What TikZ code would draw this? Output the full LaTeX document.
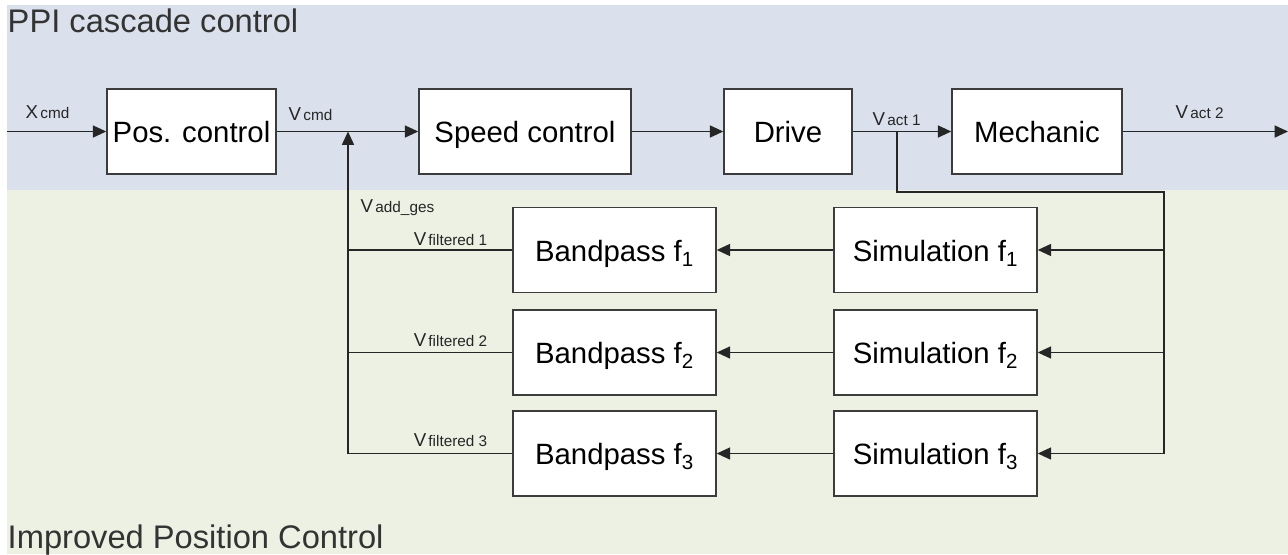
\documentclass[tikz,border=0pt]{standalone}
\usepackage{fontspec}
\setmainfont{Liberation Sans}
\usetikzlibrary{arrows.meta}

\definecolor{ppiband}{RGB}{219,225,236}
\definecolor{ipcband}{RGB}{236,241,228}
\definecolor{boxline}{RGB}{60,60,60}

\newcommand{\sig}[2]{{\fontsize{14}{16}\selectfont #1}\,{\fontsize{11.5}{13}\selectfont #2}}

\tikzset{every picture/.style={line width=1.1pt},
  blk/.style={draw=boxline, fill=white, minimum height=63.5pt, inner sep=0pt, text height=20pt, text depth=2.8pt, font=\fontsize{22}{26}\selectfont},
  sigline/.style={draw=black!85, -{Triangle[length=10pt,width=9pt]}},
  plainline/.style={draw=black!85},
  lbl/.style={anchor=base west, inner sep=0pt, text=black!85},
  lblr/.style={anchor=base east, inner sep=0pt, text=black!85},
  band/.style={anchor=base west, inner sep=0pt, font=\fontsize{24.5}{28}\selectfont, text=black!80}}

\begin{document}
\begin{tikzpicture}[x=0.75pt,y=0.75pt,yscale=-1,xscale=1]
\useasboundingbox (0,0) rectangle (1288,554);

%Shape: Rectangle [bands]
\fill [ppiband] (7,5) rectangle (1288,190);
\fill [ipcband] (7,190) rectangle (1288,554);

% Text Node
\node [band] (ppititle) at (7,32) {PPI cascade control};
% Text Node
\node [band] (ipctitle) at (7,548) {Improved Position Control};

%Shape: Rectangle [forward path]
\node [blk, minimum width=126.75pt] (pos) at (191.5,131.5) {Pos. control};
\node [blk, minimum width=159pt] (speed) at (525,131.5) {Speed control};
\node [blk, minimum width=96pt] (drive) at (788,131.5) {Drive};
\node [blk, minimum width=127.5pt] (mech) at (1037,131.5) {Mechanic};

%Shape: Rectangle [filter bank]
\node [blk, minimum width=152.25pt] (bp1) at (614.5,250) {Bandpass f\textsubscript{1}};
\node [blk, minimum width=152.25pt] (bp2) at (614.5,352.5) {Bandpass f\textsubscript{2}};
\node [blk, minimum width=152.25pt] (bp3) at (614.5,453.5) {Bandpass f\textsubscript{3}};
\node [blk, minimum width=152.25pt] (sim1) at (935.5,250) {Simulation f\textsubscript{1}};
\node [blk, minimum width=152.25pt] (sim2) at (935.5,352.5) {Simulation f\textsubscript{2}};
\node [blk, minimum width=152.25pt] (sim3) at (935.5,453.5) {Simulation f\textsubscript{3}};

% junctions
\coordinate (xin) at (7,131.5);
\coordinate (xout) at (1288,131.5);
\coordinate (sum) at (348,131.5);
\coordinate (tap) at (897,131.5);
\coordinate (fbtop) at (1164,192);
\coordinate (fb1) at (1164,250);
\coordinate (fb2) at (1164,352.5);
\coordinate (fb3) at (1164,453.5);
\coordinate (ad1) at (348,250);
\coordinate (ad2) at (348,352.5);
\coordinate (ad3) at (348,453.5);

%Straight Lines [forward path]
\draw [sigline] (xin) -- (pos);
\draw [sigline] (pos) -- (speed);
\draw [sigline] (speed) -- (drive);
\draw [sigline] (drive) -- (mech);
\draw [sigline] (mech) -- (xout);

%Straight Lines [feedback]
\draw [plainline] (tap) |- (fbtop) -- (fb3);
\draw [sigline] (fb1) -- (sim1);
\draw [sigline] (fb2) -- (sim2);
\draw [sigline] (fb3) -- (sim3);
\draw [sigline] (sim1) -- (bp1);
\draw [sigline] (sim2) -- (bp2);
\draw [sigline] (sim3) -- (bp3);
\draw [plainline] (bp1) -- (ad1);
\draw [plainline] (bp2) -- (ad2);
\draw [plainline] (bp3) -- (ad3);
\draw [sigline] (ad3) -- (sum);

% Text Node
\node [lbl] (xcmd) at (25,118) {\sig{X}{cmd}};
% Text Node
\node [lbl] (vcmd) at (288,120) {\sig{V}{cmd}};
% Text Node
\node [lbl] (vact1) at (872,125) {\sig{V}{act 1}};
% Text Node
\node [lbl] (vact2) at (1175,118) {\sig{V}{act 2}};
% Text Node
\node [lbl] (vadd) at (360,212) {\sig{V}{add\_ges}};
% Text Node
\node [lblr] (vf1) at (488,245) {\sig{V}{filtered 1}};
% Text Node
\node [lblr] (vf2) at (488,346) {\sig{V}{filtered 2}};
% Text Node
\node [lblr] (vf3) at (488,446) {\sig{V}{filtered 3}};

\end{tikzpicture}
\end{document}
